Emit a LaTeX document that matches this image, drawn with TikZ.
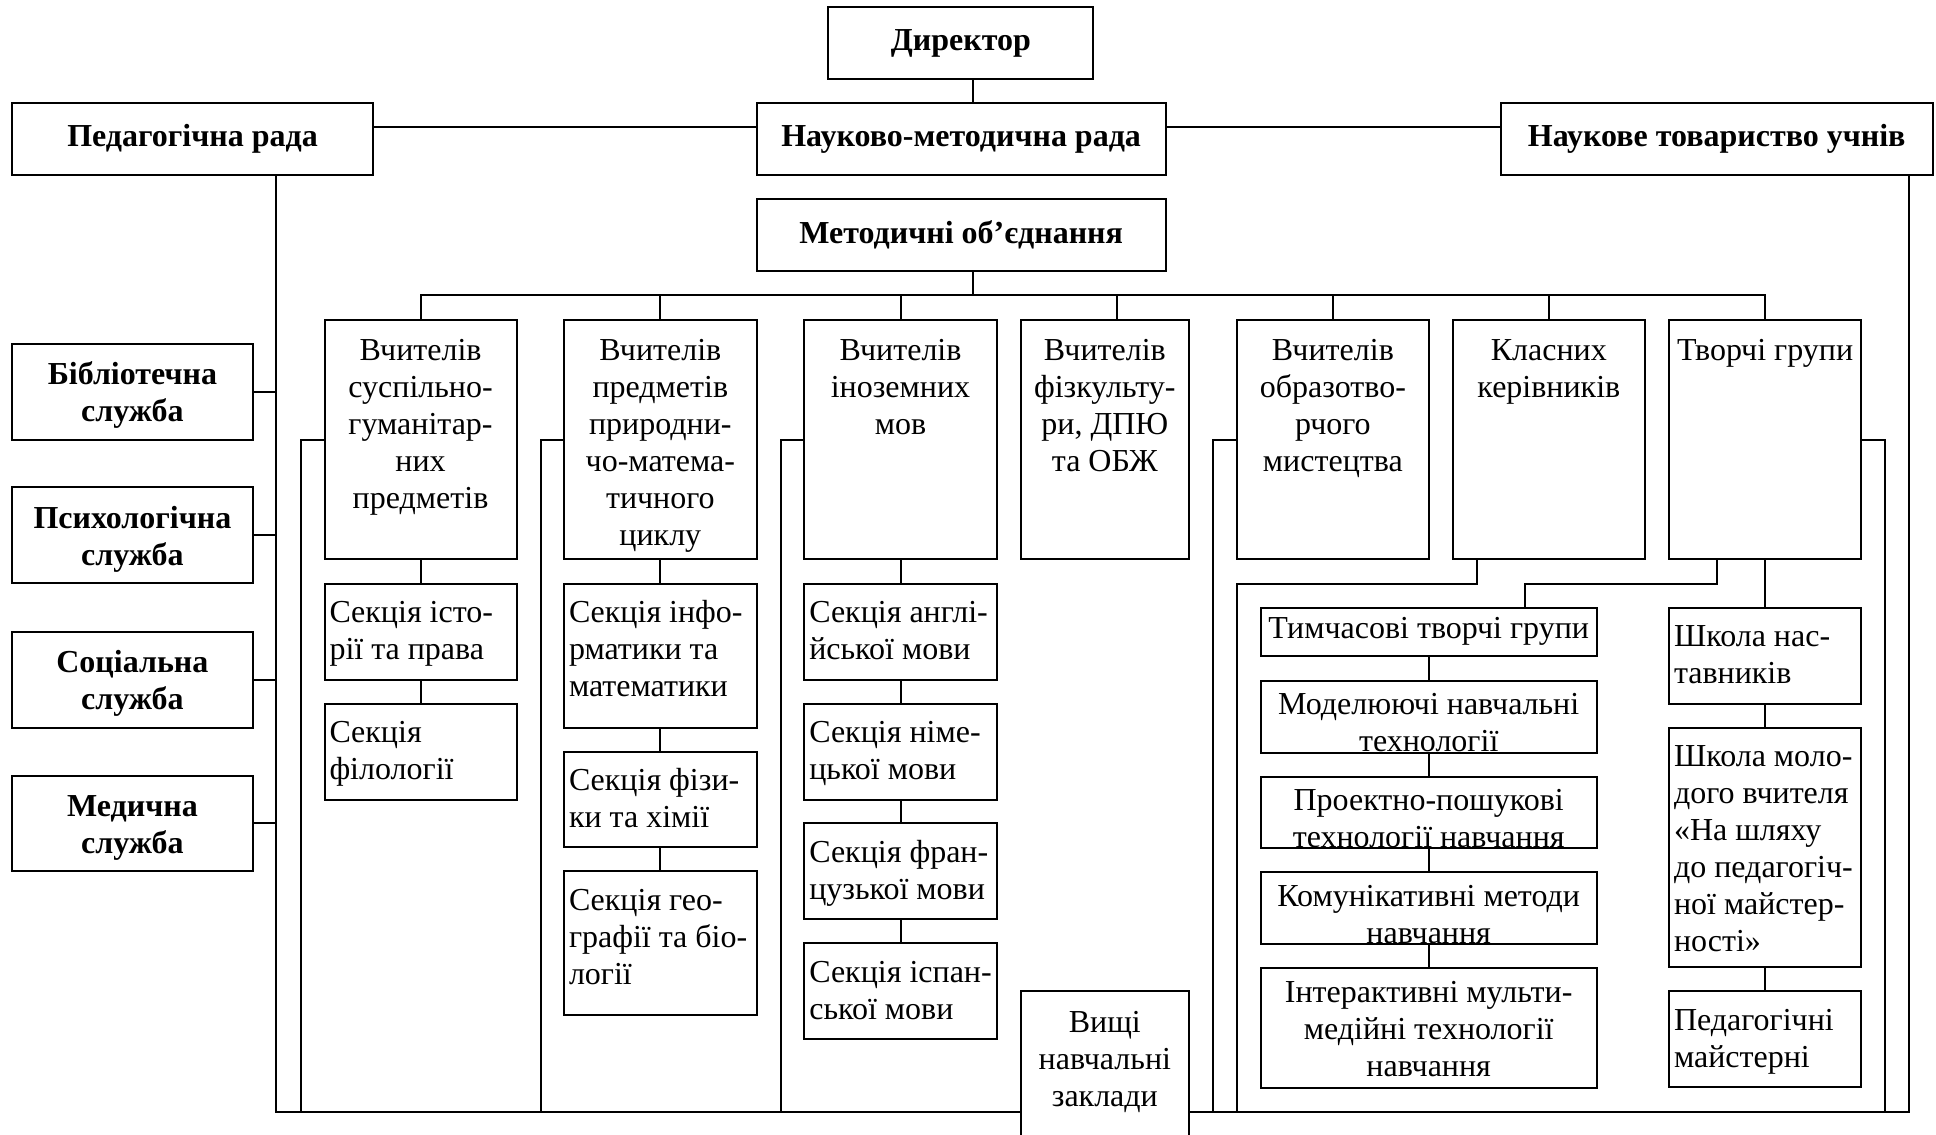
\documentclass[tikz,border=0pt]{standalone}
\usepackage{fontspec}
\setmainfont{Liberation Serif}
\usetikzlibrary{backgrounds}
\newcommand{\cbox}[4]{\parbox[c][#2pt][t]{#1pt}{\centering\rule{0pt}{#3pt}#4\par}}
\newcommand{\lbox}[4]{\parbox[c][#2pt][t]{#1pt}{\raggedright\leftskip=5pt\relax\rule{0pt}{#3pt}#4\par}}
\tikzset{
  bx/.style={draw, line width=2pt, fill=white, inner sep=0pt, outer sep=0pt, anchor=north west, font=\fontsize{32}{37}\selectfont},
  bbx/.style={bx, font=\fontsize{32}{37}\selectfont\bfseries},
  ln/.style={line width=2pt}
}
\begin{document}
\begin{tikzpicture}[x=1pt,y=-1pt]
\useasboundingbox (0,0) rectangle (1936,1135);
\clip (0,0) rectangle (1936,1135);
% top level
\node[bbx, minimum width=265pt, minimum height=72pt] (dir) at (828.4,7.3) {Директор};
\node[bbx, minimum width=360.5pt, minimum height=72pt] (ped) at (12.3,103.3) {Педагогічна рада};
\node[bbx, minimum width=408.7pt, minimum height=72pt] (nmr) at (756.8,103.3) {Науково-методична рада};
\node[bbx, minimum width=432pt, minimum height=72pt] (nto) at (1500.7,103.3) {Наукове товариство учнів};
\node[bbx, minimum width=408.7pt, minimum height=72pt] (mo) at (756.8,199.3) {Методичні об’єднання};
% services
\node[bbx] (lib) at (12.2,343.7) {\cbox{240.4}{95.8}{41}{Бібліотечна\\служба}};
\node[bbx] (psy) at (12.2,487.4) {\cbox{240.4}{95.8}{41}{Психологічна\\служба}};
\node[bbx] (soc) at (12.2,631.7) {\cbox{240.4}{95.8}{41}{Соціальна\\служба}};
\node[bbx] (med) at (12.2,775.5) {\cbox{240.4}{95.8}{41}{Медична\\служба}};
% columns
\node[bx] (c1) at (324.5,319.7) {\cbox{192.1}{239.6}{41}{Вчителів\\суспільно-\\гуманітар-\\них\\предметів}};
\node[bx] (c2) at (564,319.7) {\cbox{192.7}{239.6}{41}{Вчителів\\предметів\\природни-\\чо-матема-\\тичного\\циклу}};
\node[bx] (c3) at (804.3,319.7) {\cbox{192.4}{239.6}{41}{Вчителів\\іноземних\\мов}};
\node[bx] (c4) at (1020.7,319.7) {\cbox{168.3}{239.6}{41}{Вчителів\\фізкульту-\\ри, ДПЮ\\та ОБЖ}};
\node[bx] (c5) at (1236.7,319.7) {\cbox{192.3}{239.6}{41}{Вчителів\\образотво-\\рчого\\мистецтва}};
\node[bx] (c6) at (1452.7,319.7) {\cbox{192.3}{239.6}{41}{Класних\\керівників}};
\node[bx] (c7) at (1669,319.7) {\cbox{192.3}{239.6}{41}{Творчі групи}};
% sections
\node[bx] (s11) at (324.5,583.8) {\lbox{192.1}{95.9}{39}{Секція істо-\\рії та права}};
\node[bx] (s12) at (324.5,703.6) {\lbox{192.1}{95.9}{39}{Секція\\філології}};
\node[bx] (s21) at (564,583.8) {\lbox{192.7}{143.8}{39}{Секція інфо-\\рматики та\\математики}};
\node[bx] (s22) at (564,751.5) {\lbox{192.7}{95.9}{39}{Секція фізи-\\ки та хімії}};
\node[bx] (s23) at (564,871.4) {\lbox{192.7}{143.7}{39}{Секція гео-\\графії та біо-\\логії}};
\node[bx] (s31) at (804.3,583.8) {\lbox{192.4}{95.9}{39}{Секція англі-\\йської мови}};
\node[bx] (s32) at (804.3,703.6) {\lbox{192.4}{95.9}{39}{Секція німе-\\цької мови}};
\node[bx] (s33) at (804.3,823.4) {\lbox{192.4}{95.9}{39}{Секція фран-\\цузької мови}};
\node[bx] (s34) at (804.3,943.2) {\lbox{192.4}{95.9}{39}{Секція іспан-\\ської мови}};
\node[bx] (vnz) at (1020.7,991.2) {\cbox{168.3}{154}{41}{Вищі\\навчальні\\заклади}};
% technologies
\node[bx] (t1) at (1260.7,607.8) {\cbox{336}{47.9}{31}{Тимчасові творчі групи}};
\node[bx] (t2) at (1260.7,680.7) {\cbox{336}{71.9}{34}{Моделюючі навчальні\\технології}};
\node[bx] (t3) at (1260.7,776.6) {\cbox{336}{71.8}{34}{Проектно-пошукові\\технології навчання}};
\node[bx] (t4) at (1260.7,872.4) {\cbox{336}{71.9}{34}{Комунікативні методи\\навчання}};
\node[bx] (t5) at (1260.7,968.3) {\cbox{336}{119.8}{34}{Інтерактивні мульти-\\медійні технології\\навчання}};
% schools
\node[bx] (sn) at (1669,607.8) {\lbox{192.3}{95.8}{39}{Школа нас-\\тавників}};
\node[bx] (sm) at (1669,727.6) {\lbox{192.3}{239.6}{39}{Школа моло-\\дого вчителя\\«На шляху\\до педагогіч-\\ної майстер-\\ності»}};
\node[bx] (pm) at (1669,991.2) {\lbox{192.3}{95.8}{39}{Педагогічні\\майстерні}};
% helper coordinates
\coordinate (bus) at (0,295);
\coordinate (lvb) at (276.3,1112);
\coordinate (rvb) at (1909.3,1112);
\coordinate (b1) at (300.8,1112);
\coordinate (b2) at (540.8,1112);
\coordinate (b3) at (780.7,1112);
\coordinate (b5) at (1213.3,1112);
\coordinate (b6) at (1236.7,1112);
\coordinate (b7) at (1885,1112);
\coordinate (k6) at (1236.7,583.8);
\coordinate (k7) at (1525,583.5);
\coordinate (dt) at ([xshift=12pt]dir.south);
\coordinate (mt) at ([xshift=12pt]mo.south);
\coordinate (c4t) at ([xshift=96.3pt]c4.north west);
\coordinate (c6t) at ([xshift=24.6pt]c6.south west);
\coordinate (c7t) at ([xshift=47.7pt]c7.south west);
\coordinate (pe) at ([yshift=12pt]ped.east);
\coordinate (nw) at ([yshift=12pt]nmr.west);
\coordinate (ne) at ([yshift=12pt]nmr.east);
\coordinate (tw) at ([yshift=12pt]nto.west);
\begin{pgfonlayer}{background}
\draw[ln] (dt) -- (dt |- nmr.north);
\draw[ln] (pe) -- (nw);
\draw[ln] (ne) -- (tw);
\draw[ln] (mt) -- (mt |- bus);
\draw[ln] (c1.north) |- (c7.north |- bus) -- (c7.north);
\foreach \n in {c2,c3,c5,c6} \draw[ln] (\n.north) -- (\n.north |- bus);
\draw[ln] (c4t) -- (c4t |- bus);
\draw[ln] (ped.south -| lvb) -- (lvb) -- (rvb) -- (nto.south -| rvb);
\foreach \n in {lib,psy,soc,med} \draw[ln] (\n.east) -- (\n.east -| lvb);
\draw[ln] (c1.west) -| (b1);
\draw[ln] (c2.west) -| (b2);
\draw[ln] (c3.west) -| (b3);
\draw[ln] (c5.west) -| (b5);
\draw[ln] (c7.east) -| (b7);
\draw[ln] (c6t) |- (k6) -- (b6);
\draw[ln] (c7t) |- (k7) -- (k7 |- t1.north);
\draw[ln] (c1.south) -- (s11.north);
\draw[ln] (s11.south) -- (s12.north);
\draw[ln] (c2.south) -- (s21.north);
\draw[ln] (s21.south) -- (s22.north);
\draw[ln] (s22.south) -- (s23.north);
\draw[ln] (c3.south) -- (s31.north);
\draw[ln] (s31.south) -- (s32.north);
\draw[ln] (s32.south) -- (s33.north);
\draw[ln] (s33.south) -- (s34.north);
\draw[ln] (t1.south) -- (t2.north);
\draw[ln] (t2.south) -- (t3.north);
\draw[ln] (t3.south) -- (t4.north);
\draw[ln] (t4.south) -- (t5.north);
\draw[ln] (c7.south) -- (sn.north);
\draw[ln] (sn.south) -- (sm.north);
\draw[ln] (sm.south) -- (pm.north);
\end{pgfonlayer}
\end{tikzpicture}
\end{document}
